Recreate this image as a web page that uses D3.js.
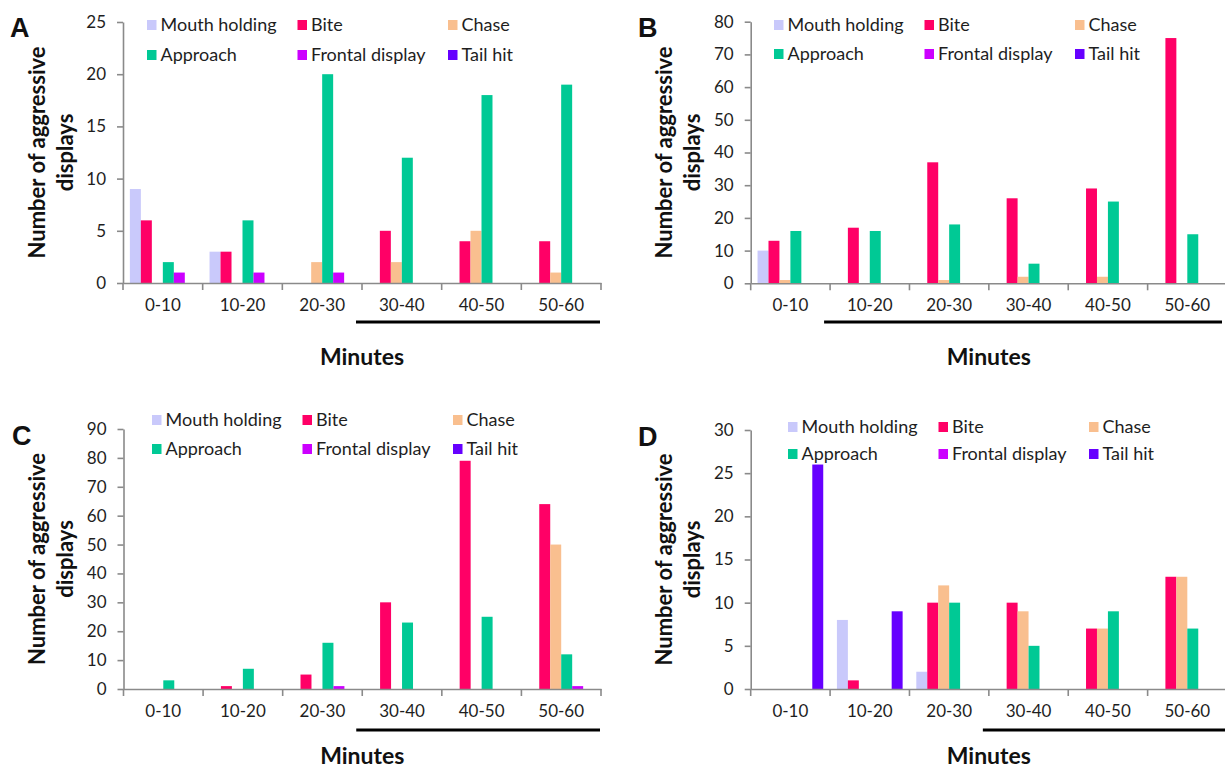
<!DOCTYPE html>
<html>
<head>
<meta charset="utf-8">
<script src="https://cdn.jsdelivr.net/npm/d3@7"></script>
<style>
  html, body { margin: 0; padding: 0; background: #fff; }
  svg { display: block; }
</style>
</head>
<body>
<svg id="chart" width="1225" height="771"></svg>
<script>
// ---------------- DATA ----------------
const categories = ["0-10", "10-20", "20-30", "30-40", "40-50", "50-60"];
const behaviours = ["Mouth holding", "Bite", "Chase", "Approach", "Frontal display", "Tail hit"];

// rows follow `behaviours`, columns follow `categories`
const panelA = [
  [9, 3, 0, 0, 0, 0],
  [6, 3, 0, 5, 4, 4],
  [0, 0, 2, 2, 5, 1],
  [2, 6, 20, 12, 18, 19],
  [1, 1, 1, 0, 0, 0],
  [0, 0, 0, 0, 0, 0]
];
const panelB = [
  [10, 0, 0, 0, 0, 0],
  [13, 17, 37, 26, 29, 75],
  [1, 0, 1, 2, 2, 0],
  [16, 16, 18, 6, 25, 15],
  [0, 0, 0, 0, 0, 0],
  [0, 0, 0, 0, 0, 0]
];
const panelC = [
  [0, 0, 0, 0, 0, 0],
  [0, 1, 5, 30, 79, 64],
  [0, 0, 0, 0, 0, 50],
  [3, 7, 16, 23, 25, 12],
  [0, 0, 1, 0, 0, 1],
  [0, 0, 0, 0, 0, 0]
];
const panelD = [
  [0, 8, 2, 0, 0, 0],
  [0, 1, 10, 10, 7, 13],
  [0, 0, 12, 9, 7, 13],
  [0, 0, 10, 5, 9, 7],
  [0, 0, 0, 0, 0, 0],
  [26, 9, 0, 0, 0, 0]
];

const yTicksA = [0, 5, 10, 15, 20, 25];
const yTicksB = [0, 10, 20, 30, 40, 50, 60, 70, 80];
const yTicksC = [0, 10, 20, 30, 40, 50, 60, 70, 80, 90];
const yTicksD = [0, 5, 10, 15, 20, 25, 30];

const panelLetters = ["A", "B", "C", "D"];
// first category covered by the black bar under the axis, per panel
const underlineFrom = ["30-40", "10-20", "30-40", "30-40"];

// ---------------- STYLE ----------------
const colors = ["#c9c9fb", "#ff0066", "#f9bf8f", "#00c995", "#cc00ff", "#6600ff"];
const FONT = "Lato, 'Open Sans', sans-serif";

const layouts = [
  { x0: 123, x1: 601, yTop: 22, yBot: 283, legX: 147, legY: [25, 55], letterX: 10, letterY: 37, ulY: 322, ulEnd: 600, minY: 365 },
  { x0: 750.7, x1: 1227, yTop: 21.7, yBot: 283.3, legX: 774, legY: [25, 54], letterX: 638, letterY: 37, ulY: 322, ulEnd: 1222, minY: 365 },
  { x0: 123.5, x1: 601, yTop: 429, yBot: 689, legX: 152, legY: [420, 449], letterX: 12, letterY: 445, ulY: 730, ulEnd: 600, minY: 764 },
  { x0: 750.7, x1: 1227, yTop: 430, yBot: 689, legX: 788, legY: [427, 454], letterX: 638, letterY: 446, ulY: 730, ulEnd: 1225, minY: 764 }
];

const panels = [panelA, panelB, panelC, panelD];
const ticks = [yTicksA, yTicksB, yTicksC, yTicksD];

const svg = d3.select("#chart");

panels.forEach((data, p) => {
  const L = layouts[p];
  const yT = ticks[p];
  const g = svg.append("g");

  const x = d3.scaleBand().domain(categories).range([L.x0, L.x1]).paddingInner(0).paddingOuter(0);
  const xi = d3.scaleBand().domain(behaviours).range([0, x.bandwidth()]).paddingOuter(0.625).paddingInner(0);
  const y = d3.scaleLinear().domain([0, d3.max(yT)]).range([L.yBot, L.yTop]);

  // bars
  behaviours.forEach((b, bi) => {
    g.append("g").selectAll("rect")
      .data(categories.map((c, ci) => ({ c, v: data[bi][ci] })).filter(d => d.v > 0))
      .join("rect")
      .attr("x", d => x(d.c) + xi(b))
      .attr("width", xi.bandwidth())
      .attr("y", d => y(d.v))
      .attr("height", d => y(0) - y(d.v))
      .attr("fill", colors[bi]);
  });

  // y axis
  const ya = g.append("g")
    .attr("transform", `translate(${L.x0},0)`)
    .call(d3.axisLeft(y).tickValues(yT).tickSize(6).tickSizeOuter(0).tickPadding(11).tickFormat(d3.format("d")));
  ya.select(".domain").attr("stroke", "#8a8a8a").attr("stroke-width", 1.6);
  ya.selectAll(".tick line").attr("stroke", "#8a8a8a").attr("stroke-width", 1.6);
  ya.selectAll(".tick text").attr("font-family", FONT).attr("font-size", 17).attr("fill", "#1e1e1e");

  // x axis (labels centered, ticks at category boundaries)
  const xa = g.append("g")
    .attr("transform", `translate(0,${L.yBot})`)
    .call(d3.axisBottom(x).tickSize(0).tickSizeOuter(0).tickPadding(16));
  xa.select(".domain").attr("stroke", "#8a8a8a").attr("stroke-width", 1.6);
  xa.selectAll(".tick text").attr("font-family", FONT).attr("font-size", 17).attr("fill", "#1e1e1e");
  const bounds = categories.map(c => x(c)).concat([x(categories[categories.length - 1]) + x.bandwidth()]);
  xa.selectAll("line.bound").data(bounds).join("line")
    .attr("class", "bound")
    .attr("x1", d => d).attr("x2", d => d)
    .attr("y1", 0).attr("y2", 7)
    .attr("stroke", "#8a8a8a").attr("stroke-width", 1.6);

  // underline bar
  g.append("line")
    .attr("x1", x(underlineFrom[p]) - 6).attr("x2", L.ulEnd)
    .attr("y1", L.ulY).attr("y2", L.ulY)
    .attr("stroke", "#000").attr("stroke-width", 3.2);

  // x title
  g.append("text")
    .attr("x", (L.x0 + L.x1) / 2).attr("y", L.minY)
    .attr("text-anchor", "middle")
    .attr("font-family", FONT).attr("font-weight", "bold").attr("font-size", 23)
    .attr("fill", "#111")
    .text("Minutes");

  // y title
  const cy = (L.yTop + L.yBot) / 2;
  [["Number of aggressive", -86], ["displays", -58]].forEach(([t, dx]) => {
    g.append("text")
      .attr("transform", `translate(${L.x0 + dx},${cy}) rotate(-90)`)
      .attr("text-anchor", "middle")
      .attr("dy", "0.35em")
      .attr("font-family", FONT).attr("font-weight", "bold").attr("font-size", 22)
      .attr("fill", "#111")
      .text(t);
  });

  // panel letter
  g.append("text")
    .attr("x", L.letterX).attr("y", L.letterY)
    .attr("font-family", "'Liberation Sans', Arial, sans-serif").attr("font-weight", "bold").attr("font-size", 27)
    .attr("fill", "#111")
    .text(panelLetters[p]);

  // legend
  behaviours.forEach((b, bi) => {
    const col = bi % 3, row = Math.floor(bi / 3);
    const lx = L.legX + col * 150.5;
    const ly = L.legY[row];
    g.append("rect")
      .attr("x", lx).attr("y", ly - 5)
      .attr("width", 9.5).attr("height", 10)
      .attr("fill", colors[bi]);
    g.append("text")
      .attr("x", lx + 13.5).attr("y", ly)
      .attr("dy", "0.35em")
      .attr("font-family", FONT).attr("font-size", 18)
      .attr("fill", "#1e1e1e")
      .text(b);
  });
});
</script>
</body>
</html>
